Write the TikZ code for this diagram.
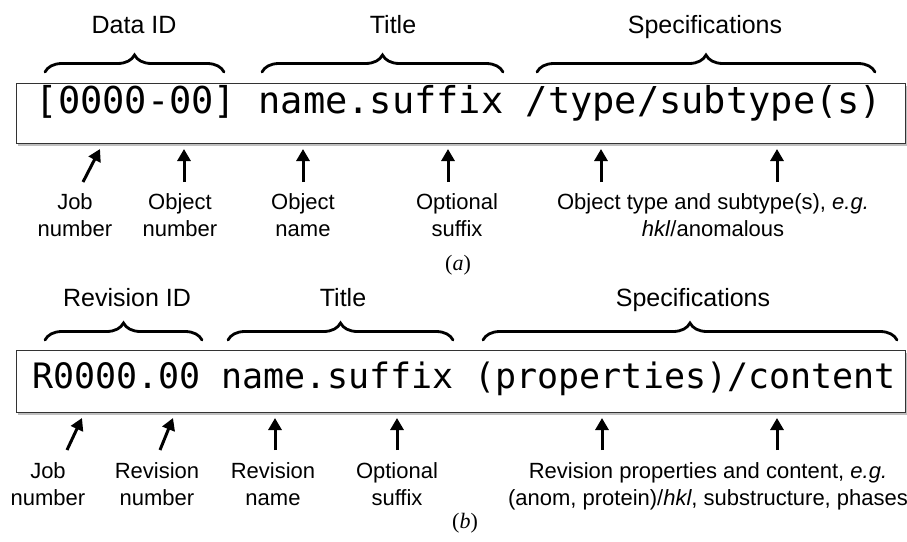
\documentclass[tikz,border=0pt]{standalone}
\usepackage{fontspec}
\setmainfont{Liberation Sans}
\newfontfamily\monof{DejaVu Sans Mono}
\newfontfamily\serf{Liberation Serif}
\usetikzlibrary{decorations.pathreplacing,arrows.meta,shadows}
\begin{document}
\begin{tikzpicture}[x=1pt,y=-1pt,
  idbox/.style={draw=black!80, line width=1pt, fill=white, anchor=north west, inner sep=0pt,
    drop shadow={shadow xshift=1.5pt, shadow yshift=-2.5pt, opacity=0.5}},
  codetext/.style={anchor=base, inner sep=0pt},
  header/.style={anchor=base, inner sep=0pt, font=\fontsize{25}{30}\selectfont},
  lbl/.style={anchor=north, inner sep=0pt, align=center, font=\fontsize{22}{27}\selectfont},
  partlbl/.style={inner sep=0pt, font=\serf\fontsize{22}{26}\selectfont},
  bracepath/.style={decorate, decoration={brace, amplitude=17pt, aspect=0.5}, line width=2.8pt, line cap=round},
  ptr/.style={line width=3pt, -{Triangle[width=13pt,length=12pt]}}
]
\useasboundingbox (0,0) rectangle (907,541);
% ---------- (a) ----------
\node[idbox, minimum width=889pt, minimum height=60pt] (boxa) at (16,83) {};
\node[codetext, font=\monof\fontsize{37}{40}\selectfont] (codea) at (459,113) {[0000-00] name.suffix /type/subtype(s)};
\node[header] (dataid) at (134,33) {Data ID};
\node[header] (titlea) at (393,33) {Title};
\node[header] (speca) at (705,33) {Specifications};
\coordinate (ba1) at (45,72); \coordinate (ba2) at (224,72);
\coordinate (ba3) at (262,72); \coordinate (ba4) at (503,72);
\coordinate (ba5) at (537,72); \coordinate (ba6) at (875,72);
\draw[bracepath] (ba1) -- (ba2);
\draw[bracepath] (ba3) -- (ba4);
\draw[bracepath] (ba5) -- (ba6);
\node[lbl] (joba) at (75,193) {Job\\number};
\node[lbl] (objnum) at (180,193) {Object\\number};
\node[lbl] (objname) at (303,193) {Object\\name};
\node[lbl] (sufa) at (457,193) {Optional\\suffix};
\node[lbl] (typea) at (713,193) {Object type and subtype(s), \textit{e.g.}\\\textit{hkl}/anomalous};
\coordinate (ta1) at (83,182); \coordinate (ha1) at (100,149);
\coordinate (ta2) at (184,182); \coordinate (ha2) at (184,149);
\coordinate (ta3) at (303,182); \coordinate (ha3) at (303,149);
\coordinate (ta4) at (448,182); \coordinate (ha4) at (448,149);
\coordinate (ta5) at (601,182); \coordinate (ha5) at (601,149);
\coordinate (ta6) at (777,182); \coordinate (ha6) at (777,149);
\foreach \i in {1,...,6} {\draw[ptr] (ta\i) -- (ha\i);}
\node[partlbl] (capa) at (458,265) {(\textit{a})};
% ---------- (b) ----------
\node[idbox, minimum width=889pt, minimum height=62pt] (boxb) at (16,350) {};
\node[codetext, font=\monof\fontsize{35}{38}\selectfont] (codeb) at (464,388) {R0000.00 name.suffix (properties)/content};
\node[header] (revid) at (127,306) {Revision ID};
\node[header] (titleb) at (343,306) {Title};
\node[header] (specb) at (693,306) {Specifications};
\coordinate (bb1) at (45,340); \coordinate (bb2) at (202,340);
\coordinate (bb3) at (228,340); \coordinate (bb4) at (453,340);
\coordinate (bb5) at (483,340); \coordinate (bb6) at (897,340);
\draw[bracepath] (bb1) -- (bb2);
\draw[bracepath] (bb3) -- (bb4);
\draw[bracepath] (bb5) -- (bb6);
\node[lbl] (jobb) at (48,462) {Job\\number};
\node[lbl] (revnum) at (157,462) {Revision\\number};
\node[lbl] (revname) at (273,462) {Revision\\name};
\node[lbl] (sufb) at (397,462) {Optional\\suffix};
\node[lbl] (propb) at (708,462) {Revision properties and content, \textit{e.g.}\\(anom, protein)/\textit{hkl}, substructure, phases};
\coordinate (tb1) at (67,450); \coordinate (hb1) at (82,418);
\coordinate (tb2) at (160,450); \coordinate (hb2) at (173,418);
\coordinate (tb3) at (275,450); \coordinate (hb3) at (275,418);
\coordinate (tb4) at (397,450); \coordinate (hb4) at (397,418);
\coordinate (tb5) at (602,450); \coordinate (hb5) at (602,418);
\coordinate (tb6) at (777,450); \coordinate (hb6) at (777,418);
\foreach \i in {1,...,6} {\draw[ptr] (tb\i) -- (hb\i);}
\node[partlbl] (capb) at (465,523) {(\textit{b})};
\end{tikzpicture}
\end{document}
